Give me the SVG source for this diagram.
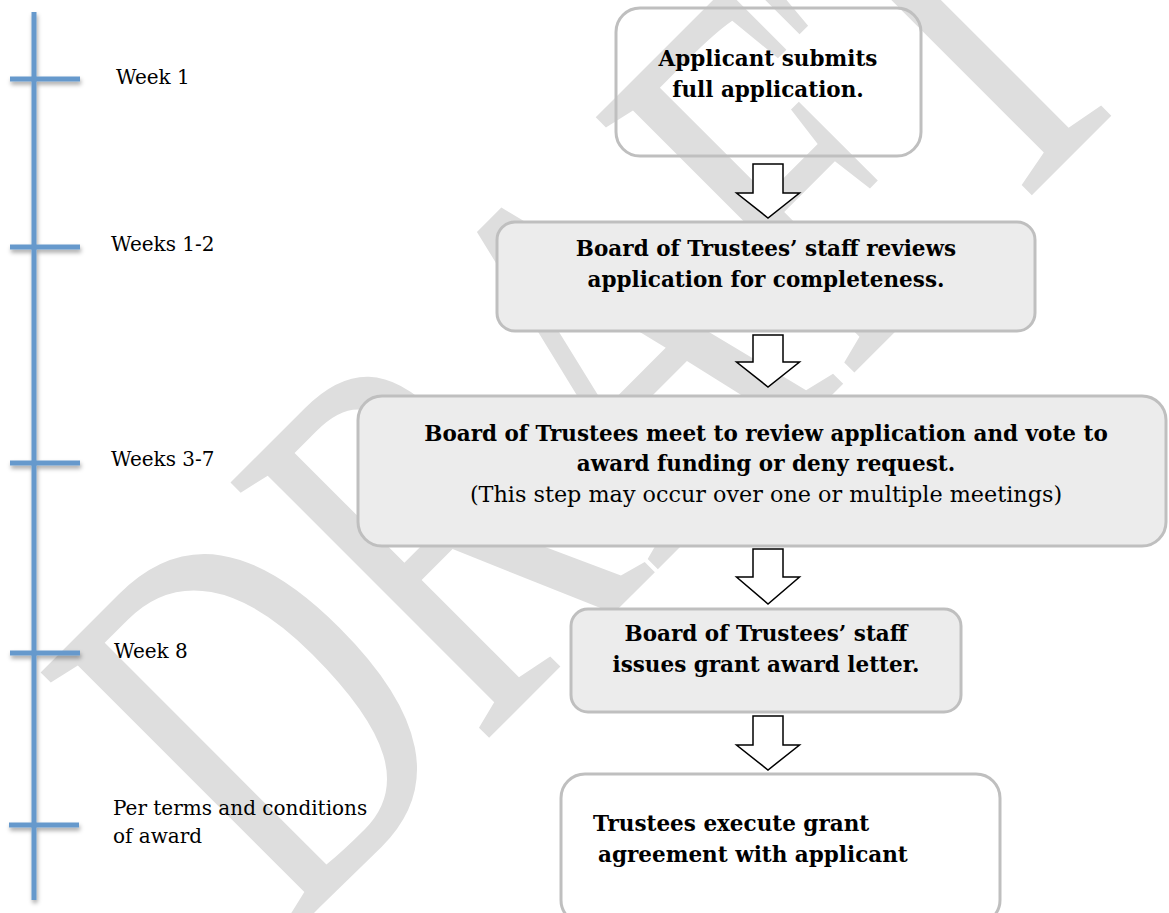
<svg xmlns="http://www.w3.org/2000/svg" width="1169" height="913" viewBox="0 0 1169 913">
<defs>
<style>
.wm{font-family:"Liberation Serif","DejaVu Serif",serif;font-size:555px;fill:#dedede}
.box{stroke:#bfbfbf;stroke-width:3}
.gray{fill:#ececec}
.clear{fill:none}
.t{font-family:"DejaVu Serif","Liberation Serif",serif;font-weight:bold;font-size:21.5px;fill:#000;text-anchor:middle}
.tl{font-family:"DejaVu Serif","Liberation Serif",serif;font-weight:bold;font-size:21.5px;fill:#000}
.n{font-family:"DejaVu Serif","Liberation Serif",serif;font-size:22.3px;fill:#000;text-anchor:middle}
.lbl{font-family:"DejaVu Serif","Liberation Serif",serif;font-size:20px;fill:#000}
.arrow{fill:#fff;stroke:#000;stroke-width:1.5;stroke-linejoin:miter}
.tl-line{stroke:#6699cc;stroke-width:5;fill:none}
</style>
<filter id="sh" x="-20%" y="-20%" width="140%" height="200%">
<feDropShadow dx="1" dy="3" stdDeviation="2" flood-color="#000" flood-opacity="0.35"/>
</filter>
</defs>
<rect width="1169" height="913" fill="#fff"/>
<g id="watermark">
<text class="wm" transform="translate(290,937) rotate(-45) scale(0.67,1)">DRAFT</text>
</g>
<g id="timeline" filter="url(#sh)">
<line class="tl-line" x1="34" y1="12" x2="34" y2="900"/>
<line class="tl-line" x1="10" y1="79" x2="80" y2="79"/>
<line class="tl-line" x1="10" y1="247" x2="80" y2="247"/>
<line class="tl-line" x1="10" y1="463" x2="80" y2="463"/>
<line class="tl-line" x1="10" y1="653" x2="80" y2="653"/>
<line class="tl-line" x1="9" y1="825" x2="79" y2="825"/>
</g>
<g id="labels">
<text class="lbl" x="116" y="84">Week 1</text>
<text class="lbl" x="111" y="251">Weeks 1-2</text>
<text class="lbl" x="111" y="466">Weeks 3-7</text>
<text class="lbl" x="114" y="658">Week 8</text>
<text class="lbl" x="113" y="815">Per terms and conditions</text>
<text class="lbl" x="113" y="843">of award</text>
</g>
<g id="connectors">
<path class="arrow" d="M753,164 H783 V193 H799.5 L768,218 L736.5,193 H753 Z"/>
<path class="arrow" d="M753,335 H783 V362 H799.5 L768,387 L736.5,362 H753 Z"/>
<path class="arrow" d="M753,549 H783 V577 H799.5 L768,604 L736.5,577 H753 Z"/>
<path class="arrow" d="M753,716 H783 V745 H799.5 L768,770 L736.5,745 H753 Z"/>
</g>
<g id="node1">
<rect class="box clear" x="616" y="8" width="305" height="148" rx="24"/>
<text class="t" x="768" y="66">Applicant submits</text>
<text class="t" x="768" y="97">full application.</text>
</g>
<g id="node2">
<rect class="box gray" x="497" y="222" width="538" height="109" rx="18"/>
<text class="t" x="766" y="256">Board of Trustees’ staff reviews</text>
<text class="t" x="766" y="287">application for completeness.</text>
</g>
<g id="node3">
<rect class="box gray" x="358" y="396" width="808" height="150" rx="24"/>
<text class="t" x="766" y="441">Board of Trustees meet to review application and vote to</text>
<text class="t" x="766" y="471">award funding or deny request.</text>
<text class="n" x="766" y="502">(This step may occur over one or multiple meetings)</text>
</g>
<g id="node4">
<rect class="box gray" x="571" y="609" width="390" height="103" rx="17"/>
<text class="t" x="766" y="641">Board of Trustees’ staff</text>
<text class="t" x="766" y="672">issues grant award letter.</text>
</g>
<g id="node5">
<rect class="box clear" x="561" y="774" width="439" height="150" rx="24"/>
<text class="tl" x="593" y="831">Trustees execute grant</text>
<text class="tl" x="598" y="862">agreement with applicant</text>
</g>
</svg>
